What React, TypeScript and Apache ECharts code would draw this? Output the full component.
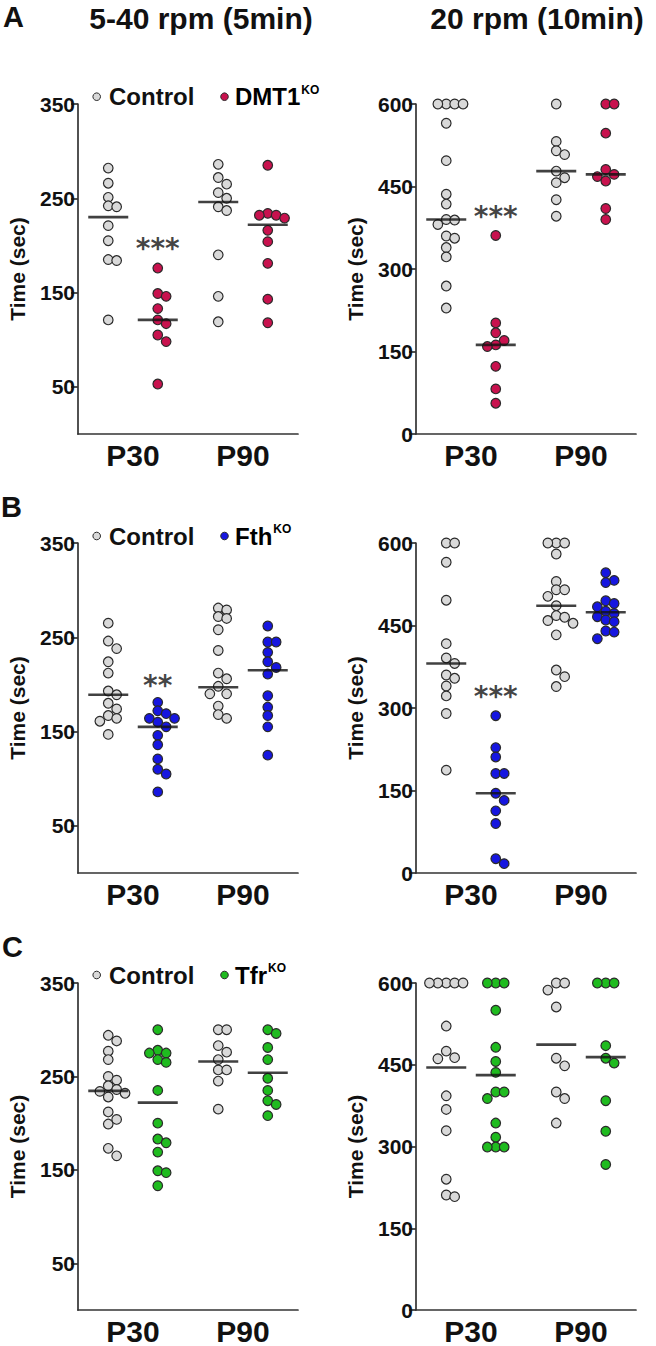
import React, { useEffect, useRef } from "react";
import * as echarts from "echarts";

// ---------- data ----------
const groupLabels = ["P30", "P90"];
const ticksShort = [50, 150, 250, 350];
const ticksLong = [0, 150, 300, 450, 600];

// Row A: DMT1 KO
const a1CtrlP30 = [282, 266, 251, 242, 241, 221, 205, 185, 184, 121];
const a1KoP30 = [176, 149, 146, 133, 121, 117, 105, 98, 53];
const a1CtrlP90 = [286, 272, 265, 256, 250, 241, 237, 190, 146, 119];
const a1KoP90 = [285, 234, 232, 232, 229, 216, 204, 181, 143, 118];
const a1Lines = [230, 121, 246, 222];

const a2CtrlP30 = [600, 600, 600, 600, 565, 497, 436, 418, 390, 389, 381, 360, 356, 339, 322, 269, 229];
const a2KoP30 = [361, 202, 184, 170, 162, 159, 123, 82, 56];
const a2CtrlP90 = [600, 532, 515, 508, 478, 466, 457, 426, 396];
const a2KoP90 = [600, 600, 547, 481, 472, 468, 460, 410, 390];
const a2Lines = [390, 162, 478, 472];

// Row B: Fth KO
const b1CtrlP30 = [265, 246, 238, 224, 212, 193, 189, 180, 174, 167, 164, 161, 147];
const b1KoP30 = [181, 172, 169, 164, 164, 160, 155, 146, 136, 121, 110, 105, 86];
const b1CtrlP90 = [281, 279, 272, 270, 258, 236, 212, 206, 198, 190, 190, 177, 168, 164];
const b1KoP90 = [262, 245, 245, 234, 224, 218, 211, 188, 176, 167, 155, 125];
const b1Lines = [189, 155, 197, 215];

const b2CtrlP30 = [600, 600, 565, 496, 417, 391, 381, 360, 354, 340, 322, 290, 187];
const b2KoP30 = [286, 228, 211, 181, 181, 145, 132, 113, 90, 26, 17];
const b2CtrlP90 = [600, 600, 600, 580, 530, 515, 515, 503, 486, 468, 465, 459, 454, 433, 369, 357, 339];
const b2KoP90 = [546, 532, 528, 495, 490, 484, 476, 472, 466, 460, 457, 440, 438, 426];
const b2Lines = [381, 145, 486, 474];

// Row C: Tfr KO
const c1CtrlP30 = [294, 288, 277, 268, 250, 246, 240, 236, 234, 232, 228, 212, 204, 199, 173, 165];
const c1KoP30 = [300, 278, 275, 275, 268, 265, 235, 200, 183, 179, 169, 149, 147, 133];
const c1CtrlP90 = [300, 300, 283, 276, 268, 257, 257, 245, 215];
const c1KoP90 = [300, 296, 281, 268, 248, 235, 224, 220, 208];
const c1Lines = [234.5, 222, 266, 254];

const c2CtrlP30 = [600, 600, 600, 600, 600, 521, 475, 463, 461, 393, 368, 329, 240, 211, 208];
const c2KoP30 = [600, 600, 600, 550, 482, 456, 436, 400, 400, 388, 343, 317, 299, 299, 299];
const c2CtrlP90 = [600, 600, 587, 556, 462, 448, 400, 388, 343];
const c2KoP90 = [600, 600, 600, 485, 462, 453, 384, 328, 267];
const c2Lines = [445, 431, 487, 464];

// significance annotations (value at which the stars are centred)
const sigA1 = { text: "***", value: 197 };
const sigA2 = { text: "***", value: 395 };
const sigB1 = { text: "**", value: 199 };
const sigB2 = { text: "***", value: 321 };

const rowTitles = ["5-40 rpm (5min)", "20 rpm (10min)"];
const koNames = ["DMT1", "Fth", "Tfr"];

// ---------- styles / layout ----------
const FONT = "'Liberation Sans', Arial, sans-serif";
const STAR_FONT = "'DejaVu Sans', sans-serif";
const GRAY = "#d9d9d9";
const EDGE = "#2a2a2a";
const KO_COLORS = ["#c8124e", "#1616e0", "#1fbb1f"];
const ROW_TOPS = [104, 543, 983];
const COL_LEFTS = [78, 416];
const GRID_W = 220;
const GRID_H = 330;
const X_MAX = 4;
const GROUP_CENTERS = [1, 3];
const HALF = 0.45;
const DOT = 9.6;

function swarm(values: number[], center: number, ymax: number): number[][] {
  const pxY = GRID_H / ymax;
  const pxX = GRID_W / X_MAX;
  const step = 8.4;
  const thr = DOT * 0.85;
  const placed: { x: number; y: number }[] = [];
  const out: number[][] = new Array(values.length);
  const order = values.map((_, i) => i).sort((a, b) => values[b] - values[a]);
  const cands = [0, 1, -1, 2, -2, 0.5, -0.5, 1.5, -1.5];
  for (const i of order) {
    const y = values[i] * pxY;
    let best = 0;
    let bestD = -1;
    for (const c of cands) {
      const x = c * step;
      let md = Infinity;
      for (const p of placed) md = Math.min(md, Math.hypot(p.x - x, p.y - y));
      if (md >= thr) {
        best = x;
        break;
      }
      if (md > bestD) {
        bestD = md;
        best = x;
      }
    }
    placed.push({ x: best, y });
    out[i] = [center + best / pxX, values[i]];
  }
  return out;
}

type Panel = {
  row: number;
  col: number;
  ymax: number;
  ticks: number[];
  ctrl: number[][];
  ko: number[][];
  lines: number[];
  sig?: { text: string; value: number };
};

const panels: Panel[] = [
  { row: 0, col: 0, ymax: 350, ticks: ticksShort, ctrl: [a1CtrlP30, a1CtrlP90], ko: [a1KoP30, a1KoP90], lines: a1Lines, sig: sigA1 },
  { row: 0, col: 1, ymax: 600, ticks: ticksLong, ctrl: [a2CtrlP30, a2CtrlP90], ko: [a2KoP30, a2KoP90], lines: a2Lines, sig: sigA2 },
  { row: 1, col: 0, ymax: 350, ticks: ticksShort, ctrl: [b1CtrlP30, b1CtrlP90], ko: [b1KoP30, b1KoP90], lines: b1Lines, sig: sigB1 },
  { row: 1, col: 1, ymax: 600, ticks: ticksLong, ctrl: [b2CtrlP30, b2CtrlP90], ko: [b2KoP30, b2KoP90], lines: b2Lines, sig: sigB2 },
  { row: 2, col: 0, ymax: 350, ticks: ticksShort, ctrl: [c1CtrlP30, c1CtrlP90], ko: [c1KoP30, c1KoP90], lines: c1Lines },
  { row: 2, col: 1, ymax: 600, ticks: ticksLong, ctrl: [c2CtrlP30, c2CtrlP90], ko: [c2KoP30, c2KoP90], lines: c2Lines },
];

function buildOption() {
  const grid: any[] = [];
  const xAxis: any[] = [];
  const yAxis: any[] = [];
  const series: any[] = [];
  const axisLineStyle = { color: "#333", width: 1.7 };

  panels.forEach((p, i) => {
    grid.push({ left: COL_LEFTS[p.col], top: ROW_TOPS[p.row], width: GRID_W, height: GRID_H });
    xAxis.push({
      gridIndex: i,
      type: "value",
      min: 0,
      max: X_MAX,
      axisLine: { show: true, onZero: false, lineStyle: axisLineStyle },
      axisTick: { show: false },
      splitLine: { show: false },
      axisLabel: {
        customValues: GROUP_CENTERS,
        formatter: (v: number) => groupLabels[GROUP_CENTERS.indexOf(v)] ?? "",
        fontSize: 30,
        fontWeight: "bold",
        fontFamily: FONT,
        color: "#111",
        margin: 6,
      },
    });
    yAxis.push({
      gridIndex: i,
      type: "value",
      min: 0,
      max: p.ymax,
      axisLine: { show: true, onZero: false, lineStyle: axisLineStyle },
      axisTick: { show: true, length: 7, customValues: p.ticks, lineStyle: axisLineStyle },
      splitLine: { show: false },
      axisLabel: {
        customValues: p.ticks,
        fontSize: 21,
        fontWeight: "bold",
        fontFamily: FONT,
        color: "#111",
        margin: 3,
      },
      name: "Time (sec)",
      nameLocation: "middle",
      nameRotate: 90,
      nameGap: 50,
      nameTextStyle: { fontSize: 21, fontWeight: "bold", fontFamily: FONT, color: "#111" },
    });

    const ctrlData = p.ctrl.flatMap((vals, g) => swarm(vals, GROUP_CENTERS[g] - HALF, p.ymax));
    const koData = p.ko.flatMap((vals, g) => swarm(vals, GROUP_CENTERS[g] + HALF, p.ymax));
    series.push({
      type: "scatter",
      xAxisIndex: i,
      yAxisIndex: i,
      data: ctrlData,
      symbolSize: DOT,
      itemStyle: { color: GRAY, borderColor: EDGE, borderWidth: 1.2, opacity: 1 },
      z: 2,
    });
    series.push({
      type: "scatter",
      xAxisIndex: i,
      yAxisIndex: i,
      data: koData,
      symbolSize: DOT,
      itemStyle: { color: KO_COLORS[p.row], borderColor: EDGE, borderWidth: 1.2, opacity: 1 },
      z: 2,
    });
    const linePos = [GROUP_CENTERS[0] - HALF, GROUP_CENTERS[0] + HALF, GROUP_CENTERS[1] - HALF, GROUP_CENTERS[1] + HALF];
    series.push({
      type: "scatter",
      xAxisIndex: i,
      yAxisIndex: i,
      data: p.lines.map((v, k) => [linePos[k], v]),
      symbol: "rect",
      symbolSize: [40, 2.6],
      itemStyle: { color: "#111" },
      z: 5,
    });
    if (p.sig) {
      series.push({
        type: "scatter",
        xAxisIndex: i,
        yAxisIndex: i,
        data: [[GROUP_CENTERS[0] + HALF, p.sig.value]],
        symbolSize: 0,
        label: {
          show: true,
          position: "inside",
          formatter: p.sig.text,
          fontSize: 28,
          fontWeight: "bold",
          fontFamily: STAR_FONT,
          color: "#111",
        },
        z: 6,
      });
    }
  });

  const txt = (text: string, x: number, y: number, size: number, align = "left") => ({
    type: "text",
    x,
    y,
    style: {
      text,
      fontSize: size,
      fontWeight: "bold",
      fontFamily: FONT,
      fill: "#111",
      align,
      verticalAlign: "middle",
    },
  });

  const graphic: any[] = [
    txt(rowTitles[0], 201, 18, 30, "center"),
    txt(rowTitles[1], 537, 18, 30, "center"),
    txt("A", 3, 17, 29),
    txt("B", 1, 507, 29),
    txt("C", 2, 947, 29),
  ];

  const legendY = [96.7, 536, 975];
  legendY.forEach((ly, r) => {
    graphic.push({
      type: "circle",
      shape: { cx: 96.7, cy: ly, r: 3.8 },
      style: { fill: GRAY, stroke: EDGE, lineWidth: 1 },
    });
    graphic.push(txt("Control", 109, ly, 24));
    graphic.push({
      type: "circle",
      shape: { cx: 224.5, cy: ly, r: 3.8 },
      style: { fill: KO_COLORS[r], stroke: EDGE, lineWidth: 1 },
    });
    graphic.push({
      type: "text",
      x: 235,
      y: ly,
      style: {
        text: `{m|${koNames[r]}}{s|KO}`,
        fontFamily: FONT,
        fontWeight: "bold",
        verticalAlign: "middle",
        rich: {
          m: { fontSize: 24, fontWeight: "bold", fontFamily: FONT, color: "#111", lineHeight: 26 },
          s: { fontSize: 12, fontWeight: "bold", fontFamily: FONT, color: "#111", lineHeight: 14, verticalAlign: "top", padding: [0, 0, 0, 1] },
        },
      },
    });
  });

  return {
    animation: false,
    backgroundColor: "#ffffff",
    grid,
    xAxis,
    yAxis,
    series,
    graphic,
  };
}

export default function App() {
  const ref = useRef<HTMLDivElement>(null);
  useEffect(() => {
    if (!ref.current) return;
    const chart = echarts.init(ref.current, undefined, { renderer: "svg" });
    chart.setOption(buildOption() as any);
    return () => chart.dispose();
  }, []);
  return (
    <div
      ref={ref}
      style={{ position: "absolute", left: 0, top: 0, width: 656, height: 1346, background: "#fff" }}
    />
  );
}
